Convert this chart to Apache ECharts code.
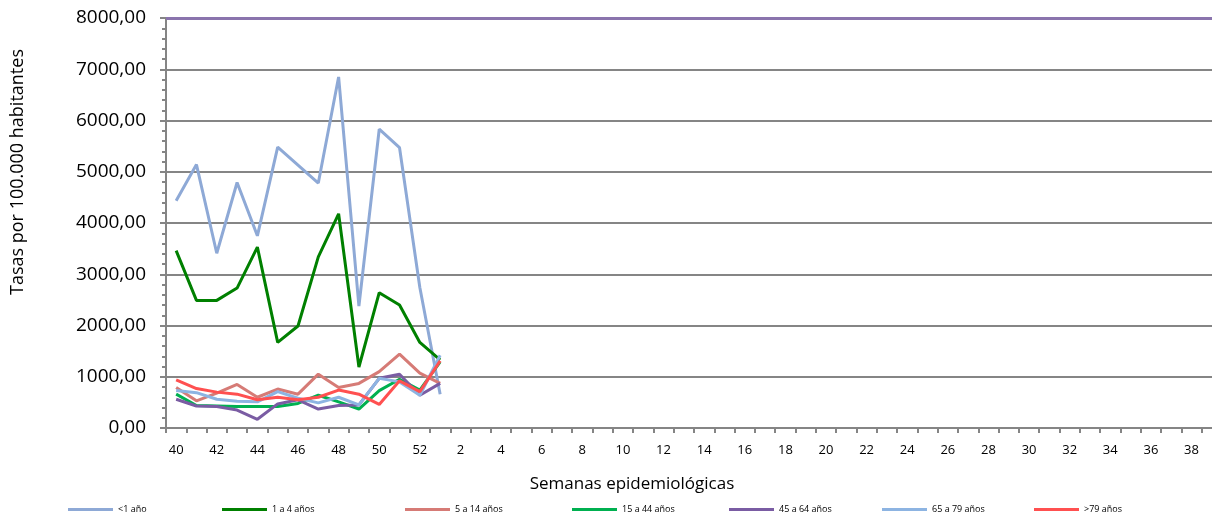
<!DOCTYPE html>
<html>
<head>
<meta charset="utf-8">
<script src="https://cdn.jsdelivr.net/npm/echarts@6/dist/echarts.min.js"></script>
<style>
html,body{margin:0;padding:0;background:#fff;}
#c{width:1212px;height:515px;}
</style>
</head>
<body>
<div id="c"></div>
<script>
var weeks = ['40','41','42','43','44','45','46','47','48','49','50','51','52',
  '1','2','3','4','5','6','7','8','9','10','11','12','13','14','15','16','17','18','19','20',
  '21','22','23','24','25','26','27','28','29','30','31','32','33','34','35','36','37','38','39'];

var seriesNames = ['<1 año','1 a 4 años','5 a 14 años','15 a 44 años','45 a 64 años','65 a 79 años','>79 años'];

var menos1 = [4435, 5140, 3410, 4790, 3750, 5480, 5130, 4780, 6850, 2380, 5830, 5470, 2740, 660];
var de1a4 = [3460, 2490, 2490, 2730, 3530, 1670, 1990, 3340, 4180, 1190, 2640, 2400, 1670, 1330];
var de5a14 = [790, 530, 680, 850, 600, 760, 660, 1050, 790, 870, 1100, 1440, 1070, 870];
var de15a44 = [660, 440, 430, 420, 420, 420, 480, 640, 510, 370, 730, 950, 740, 1290];
var de45a64 = [560, 430, 420, 350, 170, 470, 550, 370, 440, 450, 970, 1050, 640, 870];
var de65a79 = [730, 690, 560, 520, 510, 710, 580, 490, 600, 450, 970, 900, 640, 1420];
var mas79 = [940, 770, 700, 660, 550, 600, 550, 600, 740, 660, 460, 920, 710, 1310];

var yTicks = {min: 0, max: 8000, interval: 1000};

var colors = ['#8EA9D6', '#008000', '#D67B76', '#00B050', '#7A5CA3', '#8DB4E2', '#FF5050'];
var allData = [menos1, de1a4, de5a14, de15a44, de45a64, de65a79, mas79];
var legendLeft = [68, 222, 405, 572, 729, 882, 1034];

var FONT = 'Open Sans';
var GRAY = '#858585';

var series = seriesNames.map(function (n, i) {
  var s = {
    name: n, type: 'line', data: allData[i], showSymbol: false, symbol: 'none',
    lineStyle: {color: colors[i], width: 3}, itemStyle: {color: colors[i]},
    z: 3 + i, animation: false
  };
  if (i === 0) {
    s.markLine = {
      silent: true, symbol: ['none', 'none'], label: {show: false},
      lineStyle: {color: '#8A74AD', width: 3, type: 'solid'},
      data: [{yAxis: yTicks.max}], animation: false
    };
  }
  return s;
});

var legends = seriesNames.map(function (n, i) {
  return {
    data: [n], left: legendLeft[i], top: 505, icon: 'rect', itemWidth: 45, itemHeight: 3,
    padding: 0, selectedMode: false,
    textStyle: {fontSize: 9, fontFamily: FONT, color: '#000', padding: [0, 0, 0, 0]}
  };
});

var chart = echarts.init(document.getElementById('c'), null, {renderer: 'canvas'});
chart.setOption({
  animation: false,
  backgroundColor: '#fff',
  grid: {left: 166, top: 18, width: 1056, height: 410, containLabel: false, outerBoundsMode: 'none'},
  legend: legends,
  xAxis: {
    type: 'category', data: weeks, boundaryGap: true,
    axisLine: {lineStyle: {color: GRAY, width: 2}},
    axisTick: {show: true, interval: 0, length: 5, lineStyle: {color: GRAY, width: 2}},
    axisLabel: {interval: 1, margin: 16, fontSize: 13, fontFamily: FONT, color: '#000'},
    splitLine: {show: false}
  },
  yAxis: {
    type: 'value', min: yTicks.min, max: yTicks.max, interval: yTicks.interval,
    axisLine: {show: true, lineStyle: {color: GRAY, width: 2}},
    axisTick: {show: true, length: 6, lineStyle: {color: GRAY, width: 2}},
    minorTick: {show: true, splitNumber: 5, length: 4, lineStyle: {color: GRAY, width: 2}},
    axisLabel: {
      margin: 20, fontSize: 19, fontFamily: FONT, color: '#000',
      formatter: function (v) { return v.toFixed(2).replace('.', ','); }
    },
    splitLine: {show: true, lineStyle: {color: GRAY, width: 2}}
  },
  graphic: [
    {
      type: 'text', x: 632, y: 484,
      style: {text: 'Semanas epidemiológicas', font: '17px "Open Sans"', fill: '#000', align: 'center', verticalAlign: 'middle'}
    },
    {
      type: 'text', x: 18, y: 172, rotation: Math.PI / 2,
      style: {text: 'Tasas por 100.000 habitantes', font: '18px "Open Sans"', fill: '#000', align: 'center', verticalAlign: 'middle'}
    }
  ],
  series: series
});
</script>
</body>
</html>
